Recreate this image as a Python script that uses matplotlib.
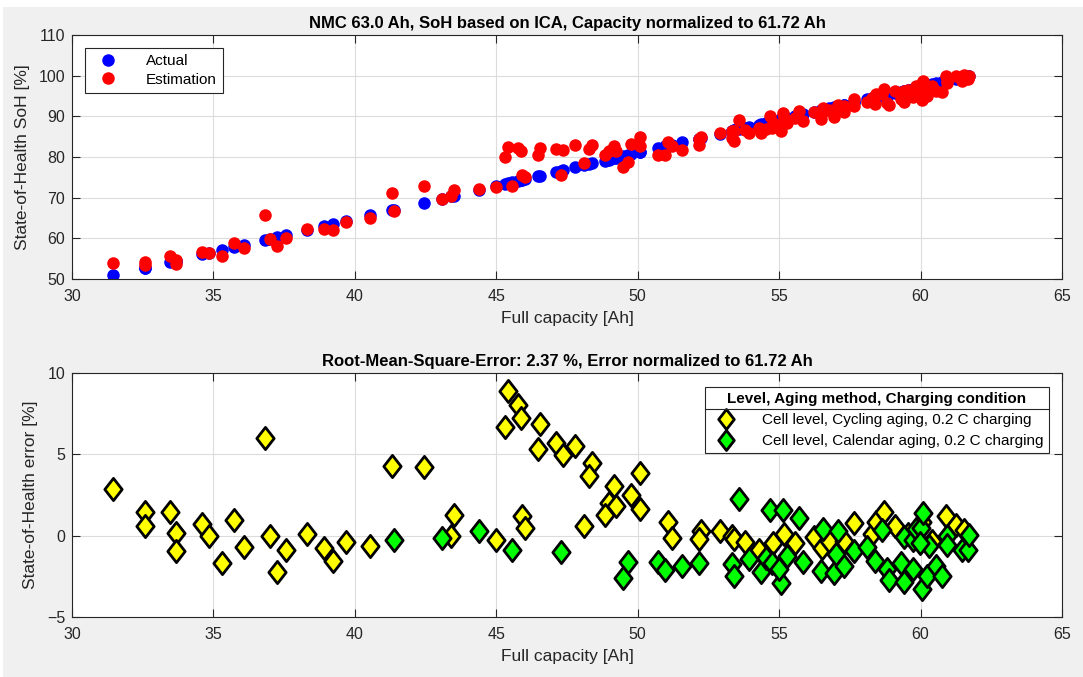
import numpy as np
import matplotlib
matplotlib.use("Agg")
import matplotlib.pyplot as plt
from matplotlib.path import Path
from matplotlib.lines import Line2D
from matplotlib.patches import Rectangle

# capacity normalisation used by the chart (see title)
NOMINAL_AH = 61.72

# cell level, cycling aging, 0.2 C charging: capacity [Ah], SoH error [%]
cyc_cap = [31.45, 32.57, 32.59, 33.47, 33.66, 33.66, 34.60, 34.86, 35.32, 35.73,
           36.07, 36.83, 36.99, 37.26, 37.56, 38.31, 38.91, 39.23, 39.70, 40.55,
           41.30, 42.45, 43.40, 43.52, 45.00, 45.43, 45.76, 45.88, 45.32, 46.53,
           46.47, 47.11, 47.37, 47.80, 48.39, 48.28, 45.90, 46.03, 48.11, 49.15,
           48.97, 49.22, 48.83, 49.77, 50.09, 50.09, 51.08, 51.21, 52.22, 52.17,
           52.90, 53.35, 53.41, 53.78, 54.29, 54.79, 55.18, 55.56, 56.24, 56.53,
           56.78, 57.30, 57.65, 58.27, 58.41, 58.71, 59.08, 59.55, 60.05, 60.40,
           60.91, 61.24, 61.55]
cyc_err = [2.89, 1.44, 0.61, 1.44, 0.18, -0.93, 0.69, -0.02, -1.67, 0.96,
           -0.71, 6.02, -0.02, -2.24, -0.89, 0.10, -0.73, -1.54, -0.39, -0.65,
           4.31, 4.21, -0.03, 1.26, -0.26, 8.88, 8.01, 7.26, 6.69, 6.85,
           5.30, 5.71, 4.94, 5.51, 4.45, 3.70, 1.24, 0.45, 0.58, 3.08,
           2.03, 1.82, 1.26, 2.53, 1.64, 3.87, 0.82, -0.16, 0.31, -0.20,
           0.30, -0.04, -0.18, -0.38, -0.87, -0.43, 0.12, -0.47, -0.09, -0.75,
           -0.33, -0.33, 0.79, 0.08, 0.87, 1.48, 0.57, 0.10, 0.85, -0.30,
           1.18, 0.67, 0.35]

# cell level, calendar aging, 0.2 C charging
cal_cap = [41.39, 43.07, 44.38, 45.56, 47.28, 49.67, 49.48, 50.70, 50.97, 51.58,
           52.18, 53.59, 53.35, 53.41, 53.94, 54.37, 54.55, 54.69, 54.76, 55.12,
           55.06, 55.00, 55.28, 55.70, 55.86, 56.47, 56.55, 56.94, 57.07, 57.02,
           57.30, 57.66, 58.12, 58.39, 58.65, 58.80, 58.88, 59.30, 59.41, 59.43,
           59.72, 59.74, 59.83, 60.00, 60.04, 60.08, 60.24, 60.30, 60.55, 60.76,
           60.94, 60.94, 61.47, 61.69, 61.71, 59.97]
cal_err = [-0.28, -0.12, 0.27, -0.89, -1.03, -1.63, -2.62, -1.60, -2.08, -1.89,
           -1.65, 2.24, -1.72, -2.48, -1.44, -2.26, -1.39, 1.56, -1.67, 1.59,
           -2.89, -2.07, -1.26, 1.11, -1.64, -2.20, 0.44, -2.31, 0.28, -1.10,
           -1.87, -0.96, -0.72, -1.57, 0.35, -2.07, -2.73, -1.70, -2.84, -0.08,
           -2.07, -0.24, 0.40, 0.47, -3.29, 1.38, -2.48, -0.65, -1.87, -2.48,
           -0.04, -0.55, -0.89, -0.85, 0.02, -0.45]

cap = np.array(cyc_cap + cal_cap)
err = np.array(cyc_err + cal_err)
soh_actual = cap / NOMINAL_AH * 100
soh_est = soh_actual + err

plt.rcParams['font.family'] = ['Liberation Sans', 'DejaVu Sans']
txt = '#262626'

fig = plt.figure(figsize=(10.83, 6.77), dpi=100, facecolor='white')
# MATLAB grey figure area (screenshot has a thin white strip top/left)
fig.add_artist(Rectangle((3 / 1083, 0), 1, 1 - 7 / 677, transform=fig.transFigure,
                         facecolor='#f0f0f0', edgecolor='none', zorder=-10))

def style_axes(ax):
    ax.set_facecolor('white')
    ax.set_xlim(30, 65)
    ax.set_xticks(np.arange(30, 66, 5))
    ax.grid(True, color='#dcdcdc', linewidth=0.8)
    ax.set_axisbelow(True)
    ax.tick_params(direction='in', length=6, width=0.8, top=True, right=True,
                   labelsize=11.5, colors=txt, labelcolor=txt)
    ax.tick_params(axis='x', pad=7)
    ax.tick_params(axis='y', pad=5)
    for s in ax.spines.values():
        s.set_color(txt)
        s.set_linewidth(0.8)
    ax.set_xlabel('Full capacity [Ah]', fontsize=12.5, color=txt, labelpad=5)

# top panel
ax1 = fig.add_axes([0.0665, 0.5879, 0.9141, 0.3604])
style_axes(ax1)
ax1.set_ylim(50, 110)
ax1.set_yticks(np.arange(50, 111, 10))
ax1.plot(cap, soh_actual, 'o', color='#0000ff', markersize=8, linestyle='none', label='Actual')
ax1.plot(cap, soh_est, 'o', color='#ff0000', markersize=8, linestyle='none', label='Estimation')
ax1.set_ylabel('State-of-Health SoH [%]', fontsize=12.5, color=txt, labelpad=6)
ax1.set_title('NMC 63.0 Ah, SoH based on ICA, Capacity normalized to 61.72 Ah',
              fontsize=12, fontweight='bold', color='black', pad=5)
leg1 = ax1.legend(loc='upper left', bbox_to_anchor=(0.013, 0.947), borderaxespad=0,
                  fontsize=11, fancybox=False, edgecolor=txt, framealpha=1,
                  handletextpad=1.4, handlelength=2.2, borderpad=0.4, labelspacing=0.3)
leg1.get_frame().set_linewidth(0.8)

# bottom panel
diamond = Path([(0, 1), (0.78, 0), (0, -1), (-0.78, 0), (0, 1)],
               [Path.MOVETO, Path.LINETO, Path.LINETO, Path.LINETO, Path.CLOSEPOLY])
ax2 = fig.add_axes([0.0665, 0.0886, 0.9141, 0.3604])
style_axes(ax2)
ax2.set_ylim(-5, 10)
ax2.set_yticks(np.arange(-5, 11, 5))
ax2.plot(cyc_cap, cyc_err, marker=diamond, markersize=16, markerfacecolor='#ffff00',
         markeredgecolor='black', markeredgewidth=2, linestyle='none',
         label='Cell level, Cycling aging, 0.2 C charging')
ax2.plot(cal_cap, cal_err, marker=diamond, markersize=16, markerfacecolor='#00ff00',
         markeredgecolor='black', markeredgewidth=2, linestyle='none',
         label='Cell level, Calendar aging, 0.2 C charging')
ax2.set_ylabel('State-of-Health error [%]', fontsize=12.5, color=txt, labelpad=6)
ax2.set_title('Root-Mean-Square-Error: 2.37 %, Error normalized to 61.72 Ah',
              fontsize=12, fontweight='bold', color='black', pad=5)
leg2 = ax2.legend(loc='upper right', bbox_to_anchor=(0.987, 0.943), borderaxespad=0,
                  fontsize=11, title='Level, Aging method, Charging condition',
                  title_fontproperties={'weight': 'bold', 'size': 11},
                  fancybox=False, edgecolor=txt, framealpha=1, handletextpad=1.4,
                  handlelength=2.0, borderpad=0.35, labelspacing=0.45, markerscale=0.9)
leg2.get_frame().set_linewidth(0.8)

# separator line under the legend title, like MATLAB draws it
fig.canvas.draw()
inv = fig.transFigure.inverted()
fb = leg2.get_frame().get_window_extent()
tb = leg2.get_title().get_window_extent()
ly = tb.y0 - 0.2 * 11 * fig.dpi / 72
(x0, y0) = inv.transform((fb.x0, ly))
(x1, _) = inv.transform((fb.x1, ly))
fig.add_artist(Line2D([x0, x1], [y0, y0], color=txt, linewidth=0.8))

fig.savefig('out.png', dpi=100, facecolor=fig.get_facecolor())
